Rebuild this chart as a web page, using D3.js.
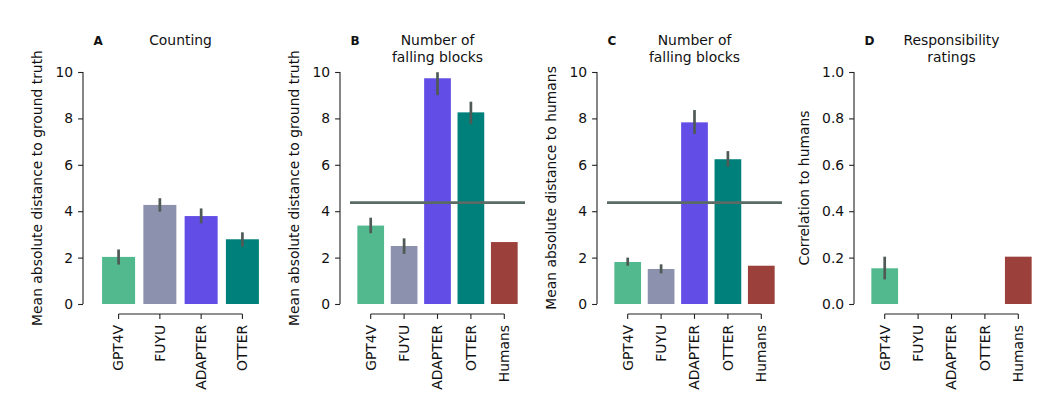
<!DOCTYPE html>
<html>
<head>
<meta charset="utf-8">
<script src="https://cdn.jsdelivr.net/npm/d3@7"></script>
<style>
  html, body { margin: 0; padding: 0; background: #fff; }
  svg { display: block; }
  text { font-family: "DejaVu Sans", sans-serif; fill: #111; }
</style>
</head>
<body>
<svg id="chart" width="1051" height="407"></svg>
<script>
// ---------------- data ----------------
const modelsA = ["GPT4V", "FUYU", "ADAPTER", "OTTER"];
const modelsAll = ["GPT4V", "FUYU", "ADAPTER", "OTTER", "Humans"];

const countingMean = [2.03, 4.27, 3.79, 2.79];
const countingLow  = [1.70, 3.98, 3.48, 2.47];
const countingHigh = [2.35, 4.56, 4.12, 3.09];

const blocksTruthMean = [3.38, 2.50, 9.73, 8.26, 2.67];
const blocksTruthLow  = [3.05, 2.16, 9.00, 7.76, null];
const blocksTruthHigh = [3.72, 2.83, 9.99, 8.72, null];

const blocksHumanMean = [1.81, 1.51, 7.83, 6.24, 1.65];
const blocksHumanLow  = [1.65, 1.32, 7.33, 5.92, null];
const blocksHumanHigh = [2.00, 1.71, 8.36, 6.59, null];

const respMean = [0.154, null, null, null, 0.204];
const respLow  = [0.106, null, null, null, null];
const respHigh = [0.204, null, null, null, null];

const refLineBlocks = 4.37;

const ticks10 = [0, 2, 4, 6, 8, 10];
const ticks1 = [0, 0.2, 0.4, 0.6, 0.8, 1.0];

const colors = {
  GPT4V: "#52b98e",
  FUYU: "#8c92ae",
  ADAPTER: "#624de6",
  OTTER: "#00807b",
  Humans: "#9c403b"
};

const panels = [
  { letter: "A", title: ["Counting"], ylabel: "Mean absolute distance to ground truth",
    cats: modelsA, mean: countingMean, lo: countingLow, hi: countingHigh,
    ymax: 10, ticks: ticks10, fmt: d3.format("d"), ref: null },
  { letter: "B", title: ["Number of", "falling blocks"], ylabel: "Mean absolute distance to ground truth",
    cats: modelsAll, mean: blocksTruthMean, lo: blocksTruthLow, hi: blocksTruthHigh,
    ymax: 10, ticks: ticks10, fmt: d3.format("d"), ref: refLineBlocks },
  { letter: "C", title: ["Number of", "falling blocks"], ylabel: "Mean absolute distance to humans",
    cats: modelsAll, mean: blocksHumanMean, lo: blocksHumanLow, hi: blocksHumanHigh,
    ymax: 10, ticks: ticks10, fmt: d3.format("d"), ref: refLineBlocks },
  { letter: "D", title: ["Responsibility", "ratings"], ylabel: "Correlation to humans",
    cats: modelsAll, mean: respMean, lo: respLow, hi: respHigh,
    ymax: 1, ticks: ticks1, fmt: d3.format(".1f"), ref: null }
];

// ---------------- layout ----------------
const svg = d3.select("#chart");
const fontSize = 13.9;
const axLeft0 = 93, axStep = 257, axW = 175;
const yTop = 72, yBottom = 304;
const spineOffset = 10;
const tickLen = 4.9;
const pad = 0.62;
const barWidthFrac = 0.8;
const spineColor = "#222";

panels.forEach((p, i) => {
  const left = axLeft0 + i * axStep;
  const n = p.cats.length;
  const x = d3.scaleLinear().domain([-pad, n - 1 + pad]).range([left, left + axW]);
  const y = d3.scaleLinear().domain([0, p.ymax]).range([yBottom, yTop]);
  const unit = x(1) - x(0);
  const bw = unit * barWidthFrac;
  const g = svg.append("g");

  const rows = p.cats.map((c, k) => ({ c, k, m: p.mean[k], lo: p.lo[k], hi: p.hi[k] }));

  // bars
  g.selectAll("rect.bar").data(rows.filter(r => r.m != null)).enter().append("rect")
    .attr("class", "bar")
    .attr("x", r => x(r.k) - bw / 2)
    .attr("width", bw)
    .attr("y", r => y(r.m))
    .attr("height", r => y(0) - y(r.m))
    .attr("fill", r => colors[r.c]);

  // reference line
  if (p.ref != null) {
    g.append("line")
      .attr("x1", left).attr("x2", left + axW)
      .attr("y1", y(p.ref)).attr("y2", y(p.ref))
      .attr("stroke", "#5a6b66").attr("stroke-width", 2.6);
  }

  // error bars
  g.selectAll("line.err").data(rows.filter(r => r.lo != null && r.hi != null)).enter().append("line")
    .attr("class", "err")
    .attr("x1", r => x(r.k)).attr("x2", r => x(r.k))
    .attr("y1", r => y(r.lo)).attr("y2", r => y(r.hi))
    .attr("stroke", "#4f5955").attr("stroke-width", 2.7);

  // y axis (offset spine)
  const spineX = left - spineOffset;
  const yAxis = d3.axisLeft(y).tickValues(p.ticks).tickFormat(p.fmt).tickSize(tickLen).tickPadding(4.9);
  const ya = g.append("g").attr("transform", `translate(${spineX},0)`).call(yAxis);
  ya.select(".domain").attr("d", `M0,${y(p.ticks[p.ticks.length - 1])}V${y(p.ticks[0])}`)
    .attr("stroke", spineColor).attr("stroke-width", 1.1);
  ya.selectAll(".tick line").attr("stroke", spineColor).attr("stroke-width", 1.1);
  ya.selectAll(".tick text").style("font-size", fontSize + "px").attr("fill", "#111")
    .style("font-family", "DejaVu Sans, sans-serif");
  let maxW = 0;
  ya.selectAll(".tick text").each(function () { maxW = Math.max(maxW, this.getBBox().width); });

  // x axis (offset spine)
  const xa = g.append("g").attr("transform", `translate(0,${yBottom + spineOffset})`);
  xa.append("path")
    .attr("d", `M${x(0)},0H${x(n - 1)}`)
    .attr("stroke", spineColor).attr("stroke-width", 1.1).attr("fill", "none");
  xa.selectAll("line.xt").data(p.cats).enter().append("line")
    .attr("x1", (d, k) => x(k)).attr("x2", (d, k) => x(k))
    .attr("y1", 0).attr("y2", tickLen)
    .attr("stroke", spineColor).attr("stroke-width", 1.1);
  xa.selectAll("text.xl").data(p.cats).enter().append("text")
    .attr("transform", (d, k) => `translate(${x(k)},${tickLen + 6}) rotate(-90)`)
    .attr("text-anchor", "end")
    .attr("dy", "0.35em")
    .style("font-size", fontSize + "px")
    .text(d => d);

  // y label
  g.append("text")
    .attr("transform", `translate(${spineX - maxW - 23},${(yTop + yBottom) / 2}) rotate(-90)`)
    .attr("text-anchor", "middle")
    .style("font-size", fontSize + "px")
    .text(p.ylabel);

  // title
  const cx = left + axW / 2;
  p.title.forEach((t, li) => {
    g.append("text").attr("x", cx).attr("y", 45 + li * 16.5)
      .attr("text-anchor", "middle").style("font-size", fontSize + "px").text(t);
  });

  // panel letter
  g.append("text").attr("x", left + 0.5).attr("y", 45)
    .style("font-size", "12px").style("font-weight", "bold").text(p.letter);
});
</script>
</body>
</html>
